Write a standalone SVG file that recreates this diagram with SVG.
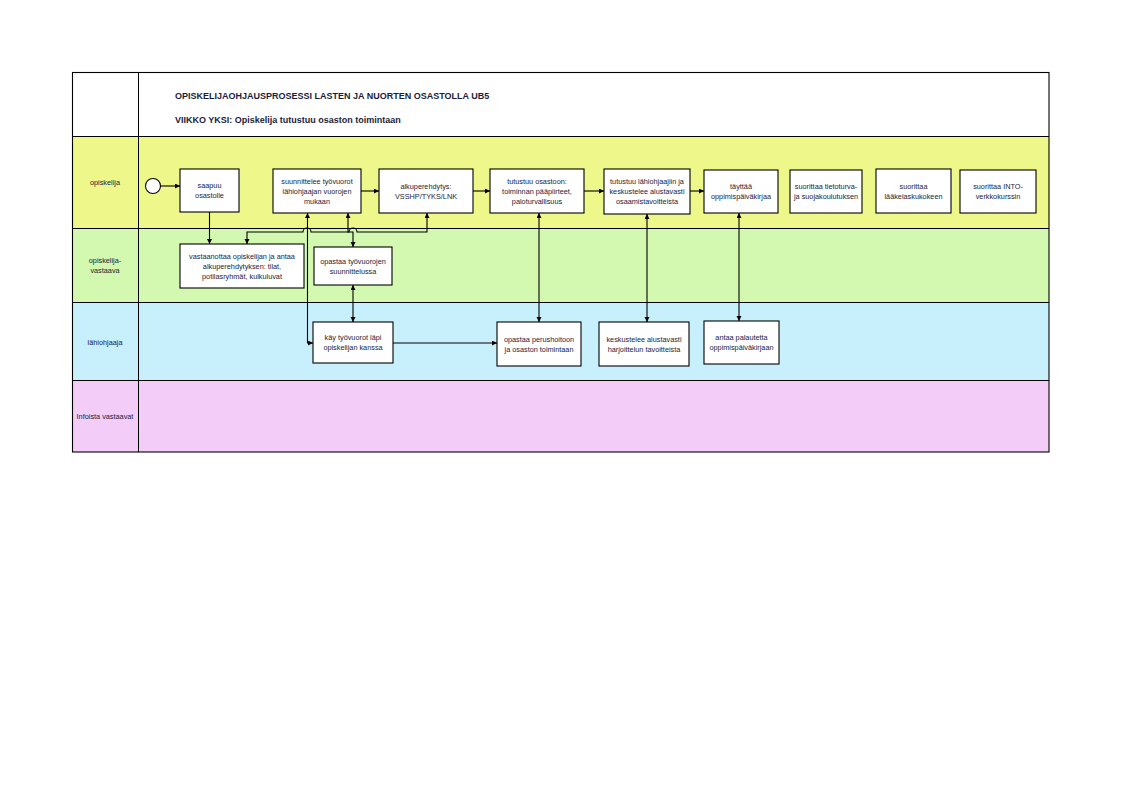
<svg xmlns="http://www.w3.org/2000/svg" width="1122" height="794" viewBox="0 0 1122 794">
<style>
text{font-family:"Liberation Sans",Arial,sans-serif;fill:#1c1c3a}
.t{font-size:7.3px;text-anchor:middle}
.h{font-size:9px;font-weight:bold}
.box{fill:#fff;stroke:#000;stroke-width:1.1}
.ln{stroke:#000;stroke-width:1}
.c{fill:none;stroke:#000;stroke-width:1.1}
.a{marker-end:url(#ar)}
.aa{marker-start:url(#ar);marker-end:url(#ar)}
</style>
<defs>
<marker id="ar" markerUnits="userSpaceOnUse" markerWidth="6" markerHeight="6" refX="5" refY="2.5" orient="auto-start-reverse">
<path d="M0,0 L5,2.5 L0,5 z" fill="#000"/>
</marker>
</defs>
<rect width="1122" height="794" fill="#fff"/>
<g id="lanes">
<rect x="72" y="72" width="977" height="64" fill="#fff"/>
<rect x="72" y="136" width="977" height="92" fill="#edf78a"/>
<rect x="72" y="228" width="977" height="74" fill="#d3f9b1"/>
<rect x="72" y="302" width="977" height="78" fill="#c7effc"/>
<rect x="72" y="380" width="977" height="72" fill="#f3cdf7"/>
<rect x="72.5" y="72.5" width="976.5" height="379.5" fill="none" stroke="#000" stroke-width="1.1"/>
<line class="ln" x1="138.5" y1="72" x2="138.5" y2="452"/>
<line class="ln" x1="72" y1="136.5" x2="1049" y2="136.5"/>
<line class="ln" x1="72" y1="228.5" x2="1049" y2="228.5"/>
<line class="ln" x1="72" y1="302.5" x2="1049" y2="302.5"/>
<line class="ln" x1="72" y1="380.5" x2="1049" y2="380.5"/>
<text class="h" x="175" y="99">OPISKELIJAOHJAUSPROSESSI LASTEN JA NUORTEN OSASTOLLA UB5</text>
<text class="h" x="175" y="123">VIIKKO YKSI: Opiskelija tutustuu osaston toimintaan</text>
<text class="t" x="105" y="184.6">opiskelija</text>
<text class="t" x="105" y="262.6">opiskelija-</text>
<text class="t" x="105" y="272.6">vastaava</text>
<text class="t" x="105" y="344.6">lähiohjaaja</text>
<text class="t" x="105" y="418.6">Infoista vastaavat</text>
</g>
<g id="connectors">
<path class="c a" d="M161,186 L180,186"/>
<path class="c a" d="M361,191 L379,191"/>
<path class="c a" d="M473,191 L490,191"/>
<path class="c a" d="M584,191 L604,191"/>
<path class="c a" d="M690,191 L704,191"/>
<path class="c a" d="M209.5,212 L209.5,244"/>
<path class="c aa" d="M247,244 L247,232 L303,232 A4,4 0 0 1 311,232 L349,232 A4,4 0 0 1 357,232 L427,232 L427,213"/>
<path class="c aa" d="M348,213 L348,232 L353,232 L353,247"/>
<path class="c aa" d="M307.5,213 L307.5,343 L313,343"/>
<path class="c aa" d="M353,285 L353,322"/>
<path class="c a" d="M393,343 L497,343"/>
<path class="c aa" d="M539,213 L539,322"/>
<path class="c aa" d="M647,214 L647,322"/>
<path class="c aa" d="M739,213 L739,321"/>
<circle cx="153" cy="186" r="7.5" fill="#fff" stroke="#000" stroke-width="1.1"/>
</g>
<g id="n1"><rect class="box" x="180" y="169" width="59" height="43"/>
<text class="t" x="209.5" y="188">saapuu</text><text class="t" x="209.5" y="198">osastolle</text></g>
<g id="n2"><rect class="box" x="273" y="169" width="88" height="44"/>
<text class="t" x="317" y="183.6">suunnittelee työvuorot</text><text class="t" x="317" y="193.6">lähiohjaajan vuorojen</text><text class="t" x="317" y="203.6">mukaan</text></g>
<g id="n3"><rect class="box" x="379" y="169" width="94" height="44"/>
<text class="t" x="426" y="188.6">alkuperehdytys:</text><text class="t" x="426" y="198.6">VSSHP/TYKS/LNK</text></g>
<g id="n4"><rect class="box" x="490" y="169" width="94" height="44"/>
<text class="t" x="537" y="183.6">tutustuu osastoon:</text><text class="t" x="537" y="193.6">toiminnan pääpiirteet,</text><text class="t" x="537" y="203.6">paloturvallisuus</text></g>
<g id="n5"><rect class="box" x="604" y="169" width="86" height="45"/>
<text class="t" x="647" y="184">tutustuu lähiohjaajiin ja</text><text class="t" x="647" y="194">keskustelee alustavasti</text><text class="t" x="647" y="204">osaamistavoitteista</text></g>
<g id="n6"><rect class="box" x="704" y="170" width="74" height="43"/>
<text class="t" x="741" y="189">täyttää</text><text class="t" x="741" y="199">oppimispäiväkirjaa</text></g>
<g id="n7"><rect class="box" x="790" y="170" width="72" height="43"/>
<text class="t" x="826" y="189">suorittaa tietoturva-</text><text class="t" x="826" y="199">ja suojakoulutuksen</text></g>
<g id="n8"><rect class="box" x="876" y="169" width="75" height="44"/>
<text class="t" x="913.5" y="188.6">suorittaa</text><text class="t" x="913.5" y="198.6">lääkelaskukokeen</text></g>
<g id="n9"><rect class="box" x="960" y="170" width="76" height="43"/>
<text class="t" x="998" y="189">suorittaa INTO-</text><text class="t" x="998" y="199">verkkokurssin</text></g>
<g id="n10"><rect class="box" x="180" y="244" width="124" height="44"/>
<text class="t" x="242" y="258.6">vastaanottaa opiskelijan ja antaa</text><text class="t" x="242" y="268.6">alkuperehdytyksen: tilat,</text><text class="t" x="242" y="278.6">potilasryhmät, kulkuluvat</text></g>
<g id="n11"><rect class="box" x="314" y="247" width="78" height="38"/>
<text class="t" x="353" y="263.6">opastaa työvuorojen</text><text class="t" x="353" y="273.6">suunnittelussa</text></g>
<g id="n12"><rect class="box" x="313" y="322" width="80" height="41"/>
<text class="t" x="353" y="340">käy työvuorot läpi</text><text class="t" x="353" y="350">opiskelijan kanssa</text></g>
<g id="n13"><rect class="box" x="497" y="322" width="84" height="44"/>
<text class="t" x="539" y="341.6">opastaa perushoitoon</text><text class="t" x="539" y="351.6">ja osaston toimintaan</text></g>
<g id="n14"><rect class="box" x="599" y="322" width="90" height="44"/>
<text class="t" x="644" y="341.6">keskustelee alustavasti</text><text class="t" x="644" y="351.6">harjoittelun tavoitteista</text></g>
<g id="n15"><rect class="box" x="704" y="321" width="75" height="43"/>
<text class="t" x="741.5" y="340">antaa palautetta</text><text class="t" x="741.5" y="350">oppimispäiväkirjaan</text></g>
</svg>
